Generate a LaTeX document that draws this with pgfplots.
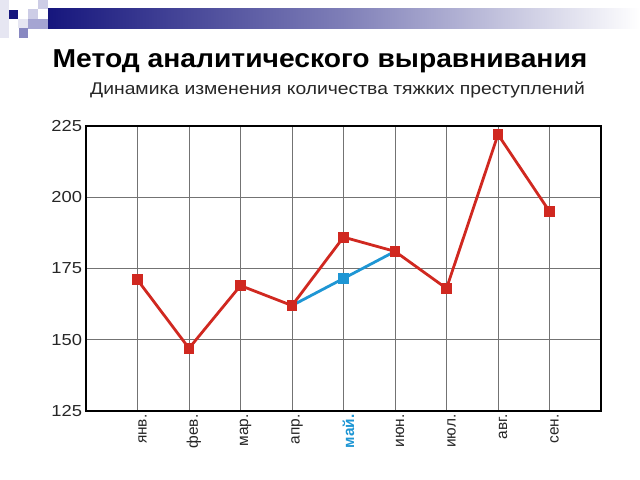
\documentclass[border=0pt]{standalone}
\usepackage{fontspec}
\setmainfont{Liberation Sans}
\usepackage{pgfplots}
\pgfplotsset{compat=1.18}
\definecolor{navyb}{RGB}{22,22,125}
\definecolor{lav1}{RGB}{205,205,230}
\definecolor{lav2}{RGB}{165,165,210}
\definecolor{lav3}{RGB}{230,230,242}
\definecolor{redline}{RGB}{208,40,32}
\definecolor{blueline}{RGB}{30,150,212}
\begin{document}
\begin{tikzpicture}[x=1bp,y=1bp]
\useasboundingbox (0,0) rectangle (640,480);
% banner decoration
\shade[left color=navyb, right color=white, middle color=navyb!55!white] (48,451) rectangle (640,471);
\fill[lav3] (0,442) rectangle (9,480);
\fill[navyb] (9,461) rectangle (18,470);
\fill[lav1] (28,461) rectangle (38,471);
\fill[lav1] (38,471) rectangle (48,480);
\fill[lav2] (38,451) rectangle (48,461);
\fill[lav2] (28,451) rectangle (38,461);
\fill[lav2!80!navyb] (19,442) rectangle (28,452);
\fill[lav3] (18,452) rectangle (28,461);
% titles
\node[anchor=base, inner sep=0pt, xscale=1.09, font=\bfseries\fontsize{26}{30}\selectfont] at (320,412) {Метод аналитического выравнивания};
\node[anchor=base east, inner sep=0pt, xscale=1.14, text=black!85, font=\fontsize{17}{20}\selectfont] at (585,385) {Динамика изменения количества тяжких преступлений};
\begin{axis}[
  at={(86bp,69bp)}, anchor=south west,
  scale only axis, width=515bp, height=285bp,
  xmin=0, xmax=10, ymin=125, ymax=225,
  xtick={1,...,9},
  xticklabels={янв.,фев.,мар.,апр.,\textcolor{blueline}{\textbf{май.}},июн.,июл.,авг.,сен.},
  xticklabel style={xshift=5bp, rotate=90, anchor=east, font=\fontsize{15.5}{18}\selectfont, text=black!85},
  ytick={125,150,175,200,225},
  yticklabel style={xscale=1.15, anchor=east, font=\fontsize{16}{19}\selectfont, text=black!85},
  /pgf/number format/assume math mode=true,
  major tick length=0pt,
  grid=major,
  major grid style={black!55, line width=0.8bp},
  axis line style={black, line width=1.3bp},
  clip=false,
]
\addplot[blueline, line width=2.8bp, mark=square*, mark size=4bp] coordinates {(4,162) (5,171.5) (6,181)};
\addplot[redline, line width=2.8bp, mark=square*, mark size=4bp] coordinates {
(1,171) (2,147) (3,169) (4,162) (5,186) (6,181) (7,168) (8,222) (9,195)};
\end{axis}
\draw[black, line width=1.5bp] (86,68.5) -- (601.5,68.5) -- (601.5,354);
\end{tikzpicture}
\end{document}
